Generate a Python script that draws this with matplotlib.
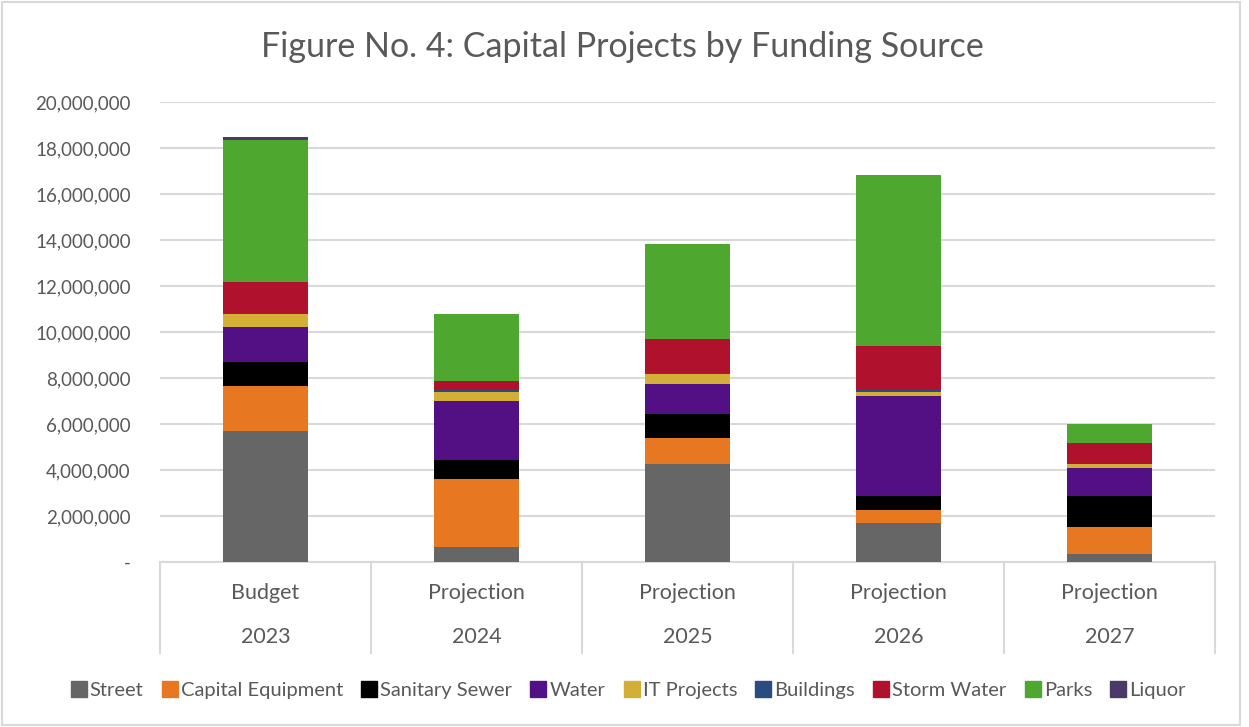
import matplotlib.pyplot as plt
import matplotlib.ticker as mticker
from matplotlib.lines import Line2D
import numpy as np

plt.rcParams['font.family'] = ['Lato', 'DejaVu Sans']

# data (in dollars)
years = ['2023', '2024', '2025', '2026', '2027']
stages = ['Budget', 'Projection', 'Projection', 'Projection', 'Projection']
series_names = ['Street', 'Capital Equipment', 'Sanitary Sewer', 'Water', 'IT Projects',
                'Buildings', 'Storm Water', 'Parks', 'Liquor']
street = [5680000, 650000, 4260000, 1700000, 350000]
capital_equipment = [1990000, 2950000, 1150000, 550000, 1170000]
sanitary_sewer = [1040000, 820000, 1020000, 640000, 1340000]
water = [1510000, 2570000, 1310000, 4310000, 1230000]
it_projects = [560000, 420000, 440000, 190000, 170000]
buildings = [30000, 90000, 20000, 80000, 20000]
storm_water = [1380000, 390000, 1500000, 1940000, 890000]
parks = [6160000, 2910000, 4140000, 7400000, 850000]
liquor = [150000, 0, 0, 0, 0]

colors = ['#666666', '#E87722', '#000000', '#531085', '#D4AF37',
          '#2B4C7E', '#B0122E', '#4EA72E', '#4A3A6A']
text_col = '#595959'
grid_col = '#D9D9D9'

all_series = [street, capital_equipment, sanitary_sewer, water, it_projects,
              buildings, storm_water, parks, liquor]

fig = plt.figure(figsize=(12.49, 7.27), dpi=100)
ax = fig.add_axes([160 / 1249, 1 - 562 / 727, 1055 / 1249, 460 / 727])

x = np.arange(len(years))
bottom = np.zeros(len(years))
handles = []
for name, vals, c in zip(series_names, all_series, colors):
    v = np.array(vals, dtype=float)
    ax.bar(x, v, bottom=bottom, width=0.4, color=c, label=name, zorder=3)
    bottom += v
    handles.append(Line2D([], [], marker='s', linestyle='', markersize=11,
                          markerfacecolor=c, markeredgecolor=c, label=name))

ax.set_xlim(-0.5, len(years) - 0.5)
ax.set_ylim(0, 20000000)
ax.set_yticks(np.arange(0, 20000001, 2000000))
ax.yaxis.set_major_formatter(mticker.FuncFormatter(
    lambda v, p: '-' if v == 0 else '{:,.0f}'.format(v)))
ax.tick_params(axis='y', length=0, labelsize=13.5, labelcolor=text_col, pad=21)
ax.set_xticks([])
ax.grid(axis='y', color=grid_col, linewidth=1.5, zorder=0)
for s in ['top', 'right', 'left']:
    ax.spines[s].set_visible(False)
ax.spines['bottom'].set_color(grid_col)
ax.spines['bottom'].set_linewidth(1.5)

# two level category axis
for i in range(len(years) + 1):
    ax.plot([i - 0.5, i - 0.5], [0, -0.197], color=grid_col, linewidth=1.5,
            transform=ax.get_xaxis_transform(), clip_on=False)
for i, (st, yr) in enumerate(zip(stages, years)):
    ax.text(i, -0.067, st, ha='center', va='center', fontsize=15.5, color=text_col,
            transform=ax.get_xaxis_transform())
    ax.text(i, -0.163, yr, ha='center', va='center', fontsize=15.5, color=text_col,
            transform=ax.get_xaxis_transform())

fig.text(0.498, 1 - 47 / 727, 'Figure No. 4: Capital Projects by Funding Source',
         ha='center', va='center', fontsize=24.5, color=text_col)

fig.legend(handles=handles, loc='center', bbox_to_anchor=(0.503, 1 - 690 / 727),
           ncol=9, frameon=False, fontsize=14.5, handlelength=0.8, handletextpad=0.15,
           columnspacing=0.9, labelcolor=text_col)

# outer chart border
fig.patches.append(plt.Rectangle((2 / 1249, 2 / 727), 1238 / 1249, 723 / 727,
                                 transform=fig.transFigure, fill=False,
                                 edgecolor=grid_col, linewidth=1.5))

fig.savefig('out.png', dpi=100)
